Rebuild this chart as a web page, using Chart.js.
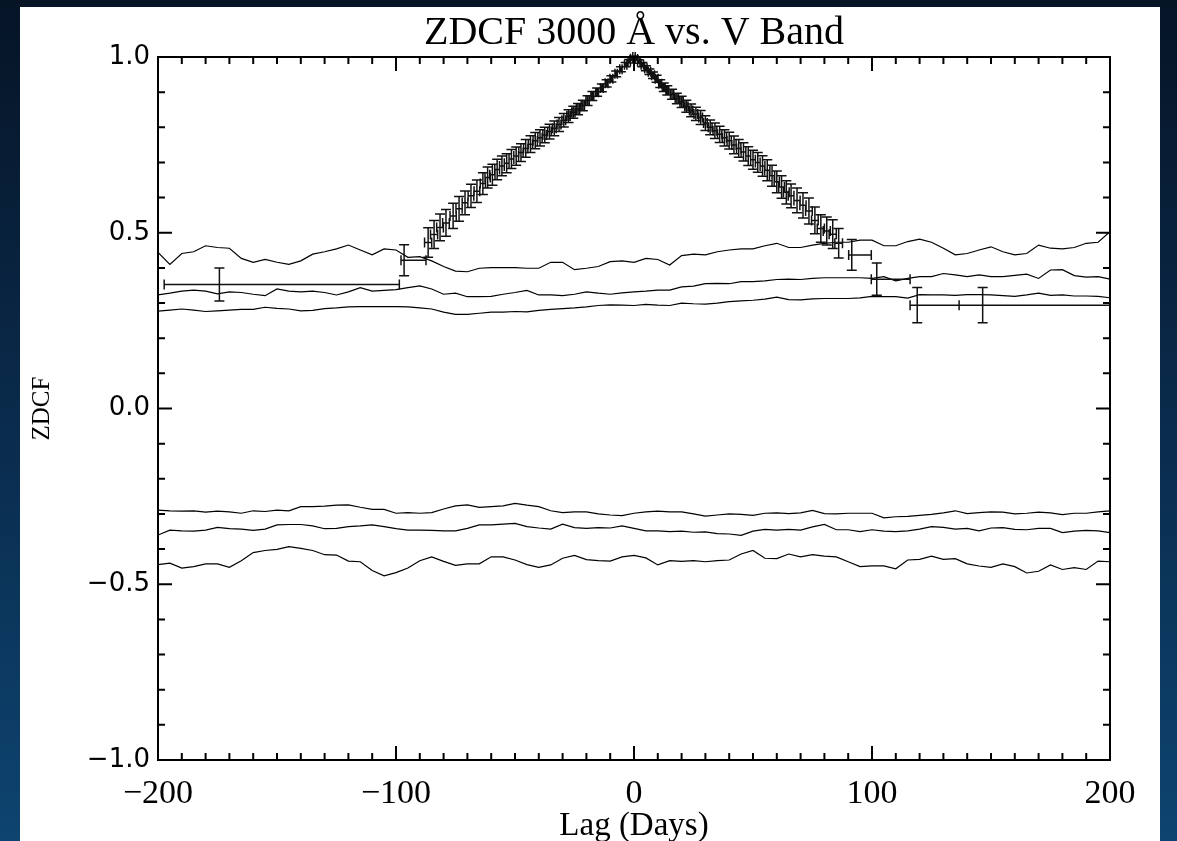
<!DOCTYPE html>
<html>
<head>
<meta charset="utf-8">
<title>ZDCF 3000 Å vs. V Band</title>
<script src="https://cdn.jsdelivr.net/npm/chart.js@4.4.1/dist/chart.umd.min.js"></script>
<style>
    html, body { margin: 0; padding: 0; }
    body {
        width: 1177px; height: 841px; overflow: hidden;
        background: linear-gradient(180deg, #061426 0%, #0a2b4c 50%, #0d4470 100%);
    }
    #panel { position: absolute; left: 20px; top: 7px; width: 1140px; height: 834px; background: #fff; }
</style>
</head>
<body>
<div id="panel"><canvas id="zdcfChart"></canvas></div>
<script>
var xTicks = [-200, -100, 0, 100, 200];
var yTicks = [-1, -0.5, 0, 0.5, 1];
var xMinorStep = 10;
var yMinorStep = 0.1;

// lag grid of the simulated significance curves (days)
var lagGrid = [
    -200, -195, -190, -185, -180, -175, -170, -165, -160, -155,
    -150, -145, -140, -135, -130, -125, -120, -115, -110, -105,
    -100, -95, -90, -85, -80, -75, -70, -65, -60, -55,
    -50, -45, -40, -35, -30, -25, -20, -15, -10, -5,
    0, 5, 10, 15, 20, 25, 30, 35, 40, 45,
    50, 55, 60, 65, 70, 75, 80, 85, 90, 95,
    100, 105, 110, 115, 120, 125, 130, 135, 140, 145,
    150, 155, 160, 165, 170, 175, 180, 185, 190, 195, 200
];

var upperHigh = [
    0.444, 0.410, 0.441, 0.446, 0.463, 0.458, 0.456, 0.427, 0.416, 0.424,
    0.416, 0.410, 0.420, 0.439, 0.446, 0.454, 0.465, 0.451, 0.437, 0.454,
    0.451, 0.430, 0.432, 0.420, 0.404, 0.391, 0.389, 0.399, 0.401, 0.401,
    0.401, 0.399, 0.399, 0.416, 0.416, 0.395, 0.399, 0.404, 0.418, 0.420,
    0.416, 0.427, 0.424, 0.408, 0.435, 0.439, 0.437, 0.446, 0.451, 0.454,
    0.454, 0.463, 0.470, 0.458, 0.458, 0.465, 0.470, 0.473, 0.473, 0.479,
    0.479, 0.463, 0.463, 0.475, 0.482, 0.473, 0.456, 0.437, 0.441, 0.451,
    0.460, 0.446, 0.437, 0.441, 0.465, 0.456, 0.454, 0.458, 0.470, 0.473, 0.503
];
var upperMid = [
    0.323, 0.328, 0.334, 0.337, 0.334, 0.326, 0.332, 0.330, 0.325, 0.321,
    0.340, 0.334, 0.332, 0.334, 0.330, 0.323, 0.332, 0.344, 0.334, 0.336,
    0.338, 0.344, 0.349, 0.340, 0.325, 0.328, 0.318, 0.318, 0.319, 0.325,
    0.330, 0.336, 0.323, 0.323, 0.321, 0.325, 0.332, 0.328, 0.325, 0.329,
    0.332, 0.334, 0.337, 0.337, 0.346, 0.348, 0.355, 0.356, 0.355, 0.361,
    0.361, 0.363, 0.367, 0.368, 0.367, 0.370, 0.372, 0.372, 0.372, 0.372,
    0.370, 0.375, 0.363, 0.370, 0.375, 0.375, 0.384, 0.380, 0.375, 0.380,
    0.375, 0.375, 0.379, 0.382, 0.370, 0.394, 0.395, 0.378, 0.374, 0.375, 0.368
];
var upperLow = [
    0.277, 0.280, 0.283, 0.280, 0.276, 0.278, 0.280, 0.282, 0.282, 0.288,
    0.285, 0.283, 0.278, 0.279, 0.284, 0.286, 0.289, 0.290, 0.290, 0.290,
    0.290, 0.289, 0.286, 0.283, 0.274, 0.268, 0.268, 0.271, 0.274, 0.274,
    0.276, 0.275, 0.279, 0.282, 0.284, 0.286, 0.289, 0.293, 0.295, 0.294,
    0.293, 0.296, 0.294, 0.293, 0.300, 0.298, 0.297, 0.300, 0.304, 0.306,
    0.308, 0.311, 0.317, 0.310, 0.309, 0.312, 0.313, 0.313, 0.313, 0.315,
    0.319, 0.318, 0.318, 0.314, 0.324, 0.323, 0.323, 0.322, 0.324, 0.324,
    0.323, 0.321, 0.319, 0.323, 0.328, 0.322, 0.323, 0.320, 0.320, 0.319, 0.315
];
var lowerHigh = [
    -0.289, -0.291, -0.292, -0.291, -0.295, -0.292, -0.294, -0.298, -0.291, -0.293,
    -0.289, -0.291, -0.279, -0.279, -0.278, -0.275, -0.274, -0.281, -0.287, -0.287,
    -0.298, -0.296, -0.298, -0.296, -0.286, -0.277, -0.274, -0.281, -0.279, -0.277,
    -0.270, -0.275, -0.279, -0.291, -0.296, -0.294, -0.294, -0.300, -0.303, -0.305,
    -0.298, -0.294, -0.292, -0.294, -0.294, -0.300, -0.306, -0.303, -0.300, -0.301,
    -0.304, -0.298, -0.297, -0.299, -0.297, -0.290, -0.299, -0.300, -0.298, -0.298,
    -0.298, -0.311, -0.308, -0.307, -0.304, -0.301, -0.297, -0.291, -0.299, -0.296,
    -0.294, -0.295, -0.300, -0.298, -0.295, -0.297, -0.302, -0.298, -0.298, -0.294, -0.291
];
var lowerMid = [
    -0.360, -0.346, -0.348, -0.349, -0.346, -0.338, -0.342, -0.343, -0.347, -0.343,
    -0.331, -0.330, -0.330, -0.334, -0.342, -0.341, -0.336, -0.334, -0.331, -0.336,
    -0.342, -0.346, -0.346, -0.347, -0.348, -0.348, -0.341, -0.331, -0.331, -0.329,
    -0.327, -0.336, -0.340, -0.343, -0.329, -0.339, -0.341, -0.339, -0.340, -0.334,
    -0.341, -0.348, -0.348, -0.350, -0.349, -0.352, -0.351, -0.356, -0.357, -0.361,
    -0.349, -0.344, -0.346, -0.344, -0.346, -0.337, -0.330, -0.345, -0.345, -0.350,
    -0.345, -0.349, -0.350, -0.348, -0.343, -0.336, -0.338, -0.343, -0.341, -0.348,
    -0.340, -0.339, -0.344, -0.345, -0.341, -0.341, -0.353, -0.349, -0.347, -0.348, -0.353
];
var lowerLow = [
    -0.444, -0.440, -0.454, -0.450, -0.442, -0.442, -0.452, -0.433, -0.410, -0.404,
    -0.401, -0.393, -0.398, -0.404, -0.416, -0.417, -0.434, -0.436, -0.461, -0.476,
    -0.467, -0.454, -0.433, -0.422, -0.435, -0.446, -0.442, -0.442, -0.422, -0.422,
    -0.431, -0.444, -0.452, -0.445, -0.426, -0.418, -0.430, -0.433, -0.434, -0.422,
    -0.418, -0.425, -0.445, -0.433, -0.435, -0.433, -0.436, -0.433, -0.431, -0.414,
    -0.404, -0.426, -0.427, -0.414, -0.422, -0.416, -0.420, -0.422, -0.436, -0.450,
    -0.448, -0.448, -0.456, -0.431, -0.429, -0.420, -0.429, -0.427, -0.442, -0.448,
    -0.452, -0.442, -0.450, -0.468, -0.463, -0.445, -0.458, -0.453, -0.458, -0.434, -0.436
];

// measured ZDCF points with asymmetric lag errors and symmetric ZDCF errors
var zdcfLag = [
    -174.2, -96.6, -86.5, -84, -81.5, -79, -76, -73.5, -71, -68.5,
    -66, -63.5, -61.5, -59.5, -57.5, -55.5, -53.5, -51.5, -49.5, -47.5,
    -45.5, -43.5, -41.5, -39.5, -37.5, -35.5, -33.5, -31.5, -29.5, -27.5,
    -25.5, -23.5, -21.5, -19.5, -17.5, -15.5, -13.5, -11.5, -9.5, -7.5,
    -5.5, -3.5, -2, -1, 0, 1, 2, 3.5, 5, 6.5,
    8, 9.5, 11, 12.5, 14, 16, 18, 20, 22, 24,
    26, 28, 30, 32, 34, 36, 38, 40, 42, 44,
    46, 48, 50, 52, 54, 56, 58, 60, 62, 64,
    66, 68.5, 71, 73.5, 76, 78.5, 81, 83.5, 86, 91.5,
    102, 119, 146.5
];
var zdcfVal = [
    0.353, 0.422, 0.472, 0.495, 0.515, 0.528, 0.548, 0.568, 0.585, 0.605,
    0.618, 0.640, 0.657, 0.665, 0.680, 0.690, 0.698, 0.710, 0.718, 0.728,
    0.740, 0.752, 0.762, 0.770, 0.778, 0.788, 0.797, 0.808, 0.820, 0.832,
    0.843, 0.852, 0.862, 0.876, 0.889, 0.900, 0.912, 0.925, 0.938, 0.952,
    0.965, 0.978, 0.988, 0.995, 1.000, 0.994, 0.987, 0.978, 0.968, 0.958,
    0.948, 0.938, 0.924, 0.914, 0.905, 0.894, 0.882, 0.872, 0.860, 0.848,
    0.838, 0.828, 0.812, 0.800, 0.790, 0.780, 0.770, 0.762, 0.750, 0.740,
    0.730, 0.718, 0.708, 0.700, 0.690, 0.678, 0.662, 0.645, 0.630, 0.615,
    0.605, 0.592, 0.578, 0.562, 0.535, 0.512, 0.505, 0.496, 0.470, 0.437,
    0.368, 0.294, 0.294
];
var zdcfLagLo = [
    23.2, 1.3, 1.5, 1.5, 1.4, 1.4, 1.3, 1.3, 1.2, 1.2,
    1.2, 1.1, 1.1, 1.1, 1.0, 1.0, 1.0, 1.0, 1.0, 0.9,
    0.9, 0.9, 0.9, 0.9, 0.8, 0.8, 0.8, 0.8, 0.8, 0.7,
    0.7, 0.7, 0.7, 0.7, 0.6, 0.6, 0.6, 0.6, 0.6, 0.5,
    0.5, 0.5, 0.5, 0.5, 0.5, 0.5, 0.5, 0.5, 0.5, 0.5,
    0.6, 0.6, 0.6, 0.6, 0.6, 0.7, 0.7, 0.7, 0.7, 0.7,
    0.8, 0.8, 0.8, 0.8, 0.8, 0.9, 0.9, 0.9, 0.9, 0.9,
    1.0, 1.0, 1.0, 1.0, 1.0, 1.1, 1.1, 1.1, 1.2, 1.2,
    1.2, 1.3, 1.3, 1.4, 1.4, 1.5, 1.5, 1.5, 1.6, 1.3,
    2.3, 3.0, 9.9
];
var zdcfLagHi = [
    75.6, 9.2, 1.5, 1.5, 1.4, 1.4, 1.3, 1.3, 1.2, 1.2,
    1.2, 1.1, 1.1, 1.1, 1.0, 1.0, 1.0, 1.0, 1.0, 0.9,
    0.9, 0.9, 0.9, 0.9, 0.8, 0.8, 0.8, 0.8, 0.8, 0.7,
    0.7, 0.7, 0.7, 0.7, 0.6, 0.6, 0.6, 0.6, 0.6, 0.5,
    0.5, 0.5, 0.5, 0.5, 0.5, 0.5, 0.5, 0.5, 0.5, 0.5,
    0.6, 0.6, 0.6, 0.6, 0.6, 0.7, 0.7, 0.7, 0.7, 0.7,
    0.8, 0.8, 0.8, 0.8, 0.8, 0.9, 0.9, 0.9, 0.9, 0.9,
    1.0, 1.0, 1.0, 1.0, 1.0, 1.1, 1.1, 1.1, 1.2, 1.2,
    1.2, 1.3, 1.3, 1.4, 1.4, 1.5, 1.5, 1.5, 1.6, 8.2,
    14.0, 17.6, 53.5
];
var zdcfErr = [
    0.047, 0.044, 0.042, 0.040, 0.038, 0.038, 0.036, 0.035, 0.034, 0.033,
    0.032, 0.031, 0.030, 0.030, 0.029, 0.028, 0.027, 0.027, 0.026, 0.025,
    0.025, 0.024, 0.023, 0.023, 0.022, 0.021, 0.021, 0.020, 0.019, 0.018,
    0.017, 0.016, 0.015, 0.014, 0.013, 0.012, 0.011, 0.010, 0.009, 0.008,
    0.007, 0.006, 0.005, 0.004, 0.003, 0.004, 0.005, 0.006, 0.007, 0.008,
    0.009, 0.010, 0.011, 0.012, 0.013, 0.014, 0.015, 0.016, 0.017, 0.018,
    0.019, 0.020, 0.021, 0.021, 0.022, 0.023, 0.023, 0.024, 0.025, 0.025,
    0.026, 0.027, 0.027, 0.028, 0.029, 0.030, 0.030, 0.031, 0.032, 0.033,
    0.034, 0.035, 0.036, 0.037, 0.038, 0.039, 0.040, 0.041, 0.042, 0.044,
    0.046, 0.050, 0.050
];

function fmtMinus(s) {
    return String(s).replace('-', '\u2212');
}

function curve(values) {
    return {
        data: lagGrid.map(function (x, i) { return { x: x, y: values[i] }; }),
        showLine: true,
        borderColor: "#000",
        borderWidth: 1.2,
        pointRadius: 0,
        tension: 0,
    };
}

// error crosses for the measured points
var errorBars = {
    id: "errorBars",
    afterDatasetsDraw: function (chart) {
        var c = chart.ctx, xs = chart.scales.x, ys = chart.scales.y;
        var cap = 5;
        c.save();
        c.strokeStyle = "#111";
        c.lineWidth = 1.5;
        c.beginPath();
        for (var i = 0; i < zdcfLag.length; i++) {
            var px = xs.getPixelForValue(zdcfLag[i]);
            var py = ys.getPixelForValue(zdcfVal[i]);
            var x0 = xs.getPixelForValue(zdcfLag[i] - zdcfLagLo[i]);
            var x1 = xs.getPixelForValue(zdcfLag[i] + zdcfLagHi[i]);
            var y0 = ys.getPixelForValue(zdcfVal[i] - zdcfErr[i]);
            var y1 = ys.getPixelForValue(zdcfVal[i] + zdcfErr[i]);
            c.moveTo(x0, py); c.lineTo(x1, py);
            c.moveTo(x0, py - cap); c.lineTo(x0, py + cap);
            c.moveTo(x1, py - cap); c.lineTo(x1, py + cap);
            c.moveTo(px, y0); c.lineTo(px, y1);
            c.moveTo(px - cap, y0); c.lineTo(px + cap, y0);
            c.moveTo(px - cap, y1); c.lineTo(px + cap, y1);
        }
        c.stroke();
        c.restore();
    },
};

// box with inward ticks on all four sides
var frameTicks = {
    id: "frameTicks",
    afterDraw: function (chart) {
        var c = chart.ctx, a = chart.chartArea, xs = chart.scales.x, ys = chart.scales.y;
        c.save();
        c.strokeStyle = "#000";
        c.lineWidth = 2;
        c.strokeRect(a.left, a.top, a.right - a.left, a.bottom - a.top);
        c.beginPath();
        var n = Math.round((xs.max - xs.min) / xMinorStep);
        for (var i = 0; i <= n; i++) {
            var v = xs.min + i * xMinorStep;
            var len = xTicks.indexOf(v) >= 0 ? 14 : 7;
            var px = xs.getPixelForValue(v);
            c.moveTo(px, a.bottom); c.lineTo(px, a.bottom - len);
            c.moveTo(px, a.top); c.lineTo(px, a.top + len);
        }
        n = Math.round((ys.max - ys.min) / yMinorStep);
        for (var j = 0; j <= n; j++) {
            var py = ys.getPixelForValue(ys.min + j * yMinorStep);
            var l = j % 5 === 0 ? 14 : 7;
            c.moveTo(a.left, py); c.lineTo(a.left + l, py);
            c.moveTo(a.right, py); c.lineTo(a.right - l, py);
        }
        c.stroke();
        c.restore();
    },
};

var zdcfChart = {
    draw: function (ctx) {
        new Chart(ctx, {
            type: "scatter",
            data: {
                datasets: [
                    curve(upperHigh), curve(upperMid), curve(upperLow),
                    curve(lowerHigh), curve(lowerMid), curve(lowerLow),
                    {
                        data: zdcfLag.map(function (x, i) { return { x: x, y: zdcfVal[i] }; }),
                        pointRadius: 0,
                        showLine: false,
                    },
                ],
            },
            options: {
                responsive: true,
                maintainAspectRatio: false,
                animation: false,
                layout: { padding: { left: 0, right: 50, top: 0, bottom: 0 } },
                plugins: {
                    legend: { display: false },
                    tooltip: { enabled: false },
                    title: {
                        display: true,
                        fullSize: false,
                        text: "ZDCF 3000 \u00c5 vs. V Band",
                        color: "#000",
                        font: { family: "Liberation Serif", size: 40, weight: "normal", lineHeight: 1.1 },
                        padding: { top: 4, bottom: 2 },
                    },
                },
                scales: {
                    x: {
                        type: "linear",
                        min: -200,
                        max: 200,
                        grid: { display: false, drawTicks: false },
                        border: { display: false },
                        afterBuildTicks: function (s) {
                            s.ticks = xTicks.map(function (v) { return { value: v }; });
                        },
                        afterFit: function (s) { s.height = 81; },
                        ticks: {
                            padding: 14,
                            color: "#000",
                            font: { family: "Liberation Serif", size: 34 },
                            maxRotation: 0,
                            callback: function (v) { return fmtMinus(v); },
                        },
                        title: {
                            display: true,
                            text: "Lag (Days)",
                            color: "#000",
                            font: { family: "Liberation Serif", size: 33, lineHeight: 1.0 },
                            padding: { top: 0, bottom: -2 },
                        },
                    },
                    y: {
                        type: "linear",
                        min: -1,
                        max: 1,
                        grid: { display: false, drawTicks: false },
                        border: { display: false },
                        afterBuildTicks: function (s) {
                            s.ticks = yTicks.map(function (v) { return { value: v }; });
                        },
                        afterFit: function (s) { s.width = 138; },
                        ticks: {
                            padding: 8,
                            color: "#000",
                            font: { family: "DejaVu Sans", size: 26 },
                            callback: function (v) { return fmtMinus(v.toFixed(1)); },
                        },
                        title: {
                            display: true,
                            text: "ZDCF",
                            color: "#000",
                            font: { family: "Liberation Serif", size: 25, lineHeight: 1.2 },
                            padding: { top: 7, bottom: 0 },
                        },
                    },
                },
            },
            plugins: [errorBars, frameTicks],
        });
    },
};

zdcfChart.draw(document.getElementById("zdcfChart"));
</script>
</body>
</html>
